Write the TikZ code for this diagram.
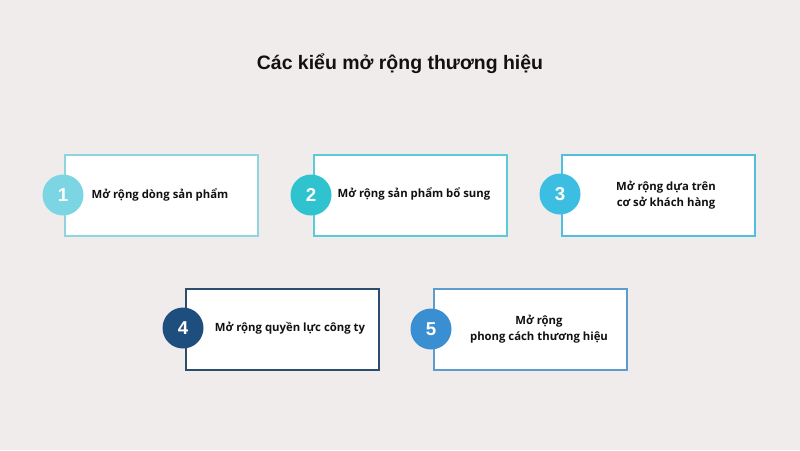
\documentclass[tikz,border=0pt]{standalone}
\usepackage{fontspec}
\setmainfont{Open Sans}
\newfontfamily\titlefont{Liberation Sans}
\definecolor{bg}{HTML}{F1ECEC}
\definecolor{cA}{HTML}{7CD5E2}
\definecolor{cB}{HTML}{2EC3CE}
\definecolor{cC}{HTML}{3CBEE2}
\definecolor{cD}{HTML}{1E4E7E}
\definecolor{cE}{HTML}{3A8FD2}
\definecolor{bA}{HTML}{8ED5DF}
\definecolor{bB}{HTML}{5CCBD8}
\definecolor{bC}{HTML}{52BEDF}
\definecolor{bD}{HTML}{2C4E6E}
\definecolor{bE}{HTML}{5E9CD0}
\definecolor{txt}{HTML}{111111}
\begin{document}
\begin{tikzpicture}[x=0.75pt,y=-0.75pt,
  card/.style={draw=#1,line width=1.4pt,fill=white,minimum width=193*0.75pt,minimum height=81*0.75pt,inner sep=0pt,anchor=north west},
  num/.style={circle,fill=#1,minimum size=41*0.75pt,inner sep=0pt,text=white,font=\titlefont\fontsize{14}{15}\selectfont\bfseries},
  lbl/.style={text=txt,font=\fontsize{8.5}{12}\selectfont\bfseries,align=center}]
\fill[bg] (0,0) rectangle (800,450);
\useasboundingbox (0,0) rectangle (800,450);
\node[text=txt,font=\titlefont\fontsize{14.6}{18}\selectfont\bfseries] (title) at (400,64) {Các kiểu mở rộng thương hiệu};
\node[card=bA] (b1) at (64,154) {};
\node[card=bB] (b2) at (313,154) {};
\node[card=bC] (b3) at (561,154) {};
\node[card=bD] (b4) at (185,288) {};
\node[card=bE] (b5) at (433,288) {};
\node[num=cA] (n1) at (63,195) {1};
\node[num=cB] (n2) at (311,195) {2};
\node[num=cC] (n3) at (560,194) {3};
\node[num=cD] (n4) at (183,328) {4};
\node[num=cE] (n5) at (431,329) {5};
\node[lbl] (t1) at (160,195) {Mở rộng dòng sản phẩm};
\node[lbl] (t2) at (414,194) {Mở rộng sản phẩm bổ sung};
\node[lbl] (t3) at (666,195) {Mở rộng dựa trên\\cơ sở khách hàng};
\node[lbl] (t4) at (290,328) {Mở rộng quyền lực công ty};
\node[lbl] (t5) at (539,329) {Mở rộng\\phong cách thương hiệu};
\end{tikzpicture}
\end{document}
